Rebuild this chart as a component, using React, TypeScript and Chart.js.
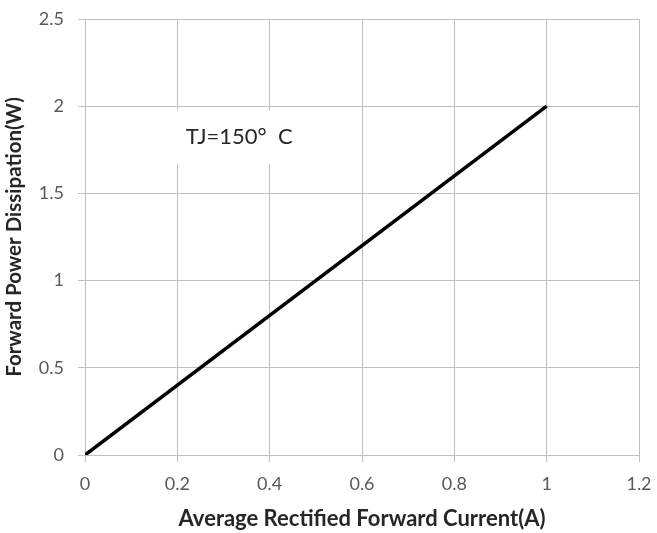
import React, { useEffect, useRef } from "react";
import { Chart, registerables } from "chart.js";

Chart.register(...registerables);

const currentA = [0, 1];
const powerW = [0, 2];
const xTicks = [0, 0.2, 0.4, 0.6, 0.8, 1, 1.2];
const yTicks = [0, 0.5, 1, 1.5, 2, 2.5];
const noteText = "TJ=150°  C";
const notePos = { x: 0.334, y: 1.823 };

const FONT = "Lato, 'Open Sans', sans-serif";

const notePlugin = {
  id: "note",
  afterDatasetsDraw(chart: any) {
    const { ctx, scales } = chart;
    const px = scales.x.getPixelForValue(notePos.x);
    const py = scales.y.getPixelForValue(notePos.y);
    ctx.save();
    ctx.font = `22px ${FONT}`;
    const w = ctx.measureText(noteText).width;
    ctx.fillStyle = "#ffffff";
    ctx.fillRect(px - w / 2 - 22, py - 27, w + 44, 54);
    ctx.fillStyle = "#262626";
    ctx.textAlign = "center";
    ctx.textBaseline = "middle";
    ctx.fillText(noteText, px, py);
    ctx.restore();
  },
};

export default function App() {
  const ref = useRef<HTMLCanvasElement>(null);
  useEffect(() => {
    if (!ref.current) return;
    const chart = new Chart(ref.current, {
      type: "scatter",
      data: {
        datasets: [
          {
            data: currentA.map((x, i) => ({ x, y: powerW[i] })),
            showLine: true,
            borderColor: "#000000",
            borderWidth: 3.5,
            pointRadius: 0,
            fill: false,
          },
        ],
      },
      options: {
        animation: false,
        responsive: true,
        maintainAspectRatio: false,
        layout: { padding: { top: 19, right: 18, left: 0, bottom: 0 } },
        plugins: { legend: { display: false }, tooltip: { enabled: false } },
        scales: {
          x: {
            type: "linear",
            min: 0,
            max: 1.2,
            afterBuildTicks: (s: any) => {
              s.ticks = xTicks.map((v) => ({ value: v }));
            },
            afterFit: (s: any) => {
              s.height = 78;
              s.paddingLeft = 0;
              s.paddingRight = 0;
            },
            grid: { color: "#bfbfbf", lineWidth: 1, tickLength: 7, drawTicks: true },
            border: { color: "#bfbfbf" },
            ticks: {
              color: "#595959",
              font: { family: FONT, size: 18 },
              padding: 11,
              maxRotation: 0,
              callback: (v: any) => String(v),
            },
            title: {
              display: true,
              text: "Average Rectified Forward Current(A)",
              color: "#262626",
              font: { family: FONT, size: 22, weight: "bold" },
              padding: { top: 2, bottom: 1 },
            },
          },
          y: {
            type: "linear",
            min: 0,
            max: 2.5,
            afterBuildTicks: (s: any) => {
              s.ticks = yTicks.map((v) => ({ value: v }));
            },
            afterFit: (s: any) => {
              s.width = 85;
              s.paddingTop = 0;
              s.paddingBottom = 0;
            },
            grid: { color: "#bfbfbf", lineWidth: 1, tickLength: 7 },
            border: { color: "#bfbfbf" },
            ticks: {
              color: "#595959",
              font: { family: FONT, size: 18 },
              padding: 14,
              callback: (v: any) => String(v),
            },
            title: {
              display: true,
              text: "Forward Power Dissipation(W)",
              color: "#262626",
              font: { family: FONT, size: 20.5, weight: "bold" },
              padding: { top: 2, bottom: 0 },
            },
          },
        },
      },
      plugins: [notePlugin],
    });
    return () => chart.destroy();
  }, []);
  return (
    <div style={{ position: "fixed", left: 0, top: 0, width: 657, height: 533, background: "#fff" }}>
      <canvas ref={ref} />
    </div>
  );
}
